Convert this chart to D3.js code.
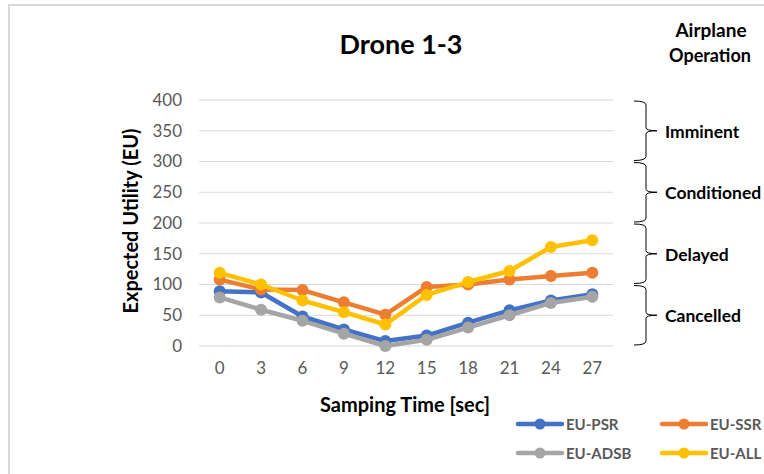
<!DOCTYPE html>
<html><head><meta charset="utf-8">
<script src="https://cdn.jsdelivr.net/npm/d3@7"></script>
<style>body{margin:0;background:#fff}svg{display:block}</style>
</head><body>
<svg id="c" width="764" height="474"></svg>
<script>
const categories = ["0","3","6","9","12","15","18","21","24","27"];
const euPSR  = [89, 87, 48, 27, 8, 17, 38, 58, 74, 84];
const euSSR  = [108, 92, 91, 71, 51, 96, 100, 108, 114, 119];
const euADSB = [79, 59, 41, 20, 0, 10, 30, 50, 70, 80];
const euALL  = [119, 100, 74, 55, 35, 83, 104, 122, 161, 172];
const seriesNames = ["EU-PSR","EU-SSR","EU-ADSB","EU-ALL"];
const seriesColors = ["#4472c4","#ed7d31","#a5a5a5","#ffc000"];
const yTicks = [0,50,100,150,200,250,300,350,400];
const bands = [
  {label:"Imminent", from:300, to:400},
  {label:"Conditioned", from:200, to:300},
  {label:"Delayed", from:100, to:200},
  {label:"Cancelled", from:0, to:100}
];

const series = [
  {name:seriesNames[0], color:seriesColors[0], values:euPSR},
  {name:seriesNames[1], color:seriesColors[1], values:euSSR},
  {name:seriesNames[2], color:seriesColors[2], values:euADSB},
  {name:seriesNames[3], color:seriesColors[3], values:euALL}
];

const font = "Lato, 'Open Sans', sans-serif";
const svg = d3.select("#c");
// outer frame
svg.append("rect").attr("x",9).attr("y",5).attr("width",800).attr("height",520)
  .attr("fill","#fff").attr("stroke","#d9d9d9").attr("stroke-width",2);

const x = d3.scaleBand().domain(categories).range([199,613]);
const y = d3.scaleLinear().domain([0,400]).range([346,100]);

// gridlines
svg.append("g").selectAll("line").data(yTicks).join("line")
  .attr("x1",199).attr("x2",613).attr("y1",d=>y(d)).attr("y2",d=>y(d))
  .attr("stroke","#d9d9d9").attr("stroke-width",1);

// y axis labels
const yAxis = svg.append("g").attr("transform","translate(199,0)")
  .call(d3.axisLeft(y).tickValues(yTicks).tickSize(0).tickPadding(17));
yAxis.select(".domain").remove();
yAxis.selectAll("text").attr("font-family",font).attr("font-size",17).attr("fill","#595959");

// x axis labels
const xAxis = svg.append("g").attr("transform","translate(0,346)")
  .call(d3.axisBottom(x).tickSize(0).tickPadding(16));
xAxis.select(".domain").remove();
xAxis.selectAll("text").attr("font-family",font).attr("font-size",17).attr("fill","#595959");

// lines
const line = d3.line().x((d,i)=>x(categories[i])+x.bandwidth()/2).y(d=>y(d));
series.forEach(s=>{
  const g = svg.append("g");
  g.append("path").datum(s.values).attr("d",line).attr("fill","none")
    .attr("stroke",s.color).attr("stroke-width",4.5).attr("stroke-linejoin","round");
  g.selectAll("circle").data(s.values).join("circle")
    .attr("cx",(d,i)=>x(categories[i])+x.bandwidth()/2).attr("cy",d=>y(d))
    .attr("r",6).attr("fill",s.color);
});

// titles
svg.append("text").attr("x",401).attr("y",54).attr("text-anchor","middle")
  .attr("font-family",font).attr("font-weight","bold").attr("font-size",27).attr("fill","#000").text("Drone 1-3");
svg.append("text").attr("transform","translate(138,221) rotate(-90)").attr("text-anchor","middle")
  .attr("font-family",font).attr("font-weight","bold").attr("font-size",20).attr("fill","#000").text("Expected Utility (EU)");
svg.append("text").attr("x",405).attr("y",412).attr("text-anchor","middle")
  .attr("font-family",font).attr("font-weight","bold").attr("font-size",20).attr("fill","#000").text("Samping Time [sec]");

// Airplane Operation header
svg.append("text").attr("x",711).attr("y",37).attr("text-anchor","middle")
  .attr("font-family",font).attr("font-weight","bold").attr("font-size",19).attr("fill","#000").text("Airplane");
svg.append("text").attr("x",710).attr("y",62).attr("text-anchor","middle")
  .attr("font-family",font).attr("font-weight","bold").attr("font-size",18).attr("fill","#000").text("Operation");

// braces
bands.forEach(b=>{
  const top = y(b.to)+1, bot = y(b.from)-1, mid = (top+bot)/2;
  const bx = 646, lx = 634, tx = 657;
  const p = `M${lx},${top} Q${bx},${top} ${bx},${top+4} L${bx},${mid-3} Q${bx},${mid} ${tx},${mid} Q${bx},${mid} ${bx},${mid+3} L${bx},${bot-4} Q${bx},${bot} ${lx},${bot}`;
  svg.append("path").attr("d",p).attr("fill","none").attr("stroke","#000").attr("stroke-width",1);
  svg.append("text").attr("x",665).attr("y",mid+7).attr("font-family",font).attr("font-weight","bold")
    .attr("font-size",17.5).attr("fill","#000").text(b.label);
});

// legend
const legendPos = [[518,424],[662,424],[518,453],[662,453]];
series.forEach((s,i)=>{
  const [lx,ly] = legendPos[i];
  const g = svg.append("g");
  g.append("line").attr("x1",lx).attr("x2",lx+44).attr("y1",ly).attr("y2",ly)
    .attr("stroke",s.color).attr("stroke-width",4.5).attr("stroke-linecap","round");
  g.append("circle").attr("cx",lx+22).attr("cy",ly).attr("r",5.5).attr("fill",s.color);
  g.append("text").attr("x",lx+48).attr("y",ly+5.5).attr("font-family",font).attr("font-weight","bold")
    .attr("font-size",15).attr("fill","#595959").text(s.name);
});
</script>
</body></html>
